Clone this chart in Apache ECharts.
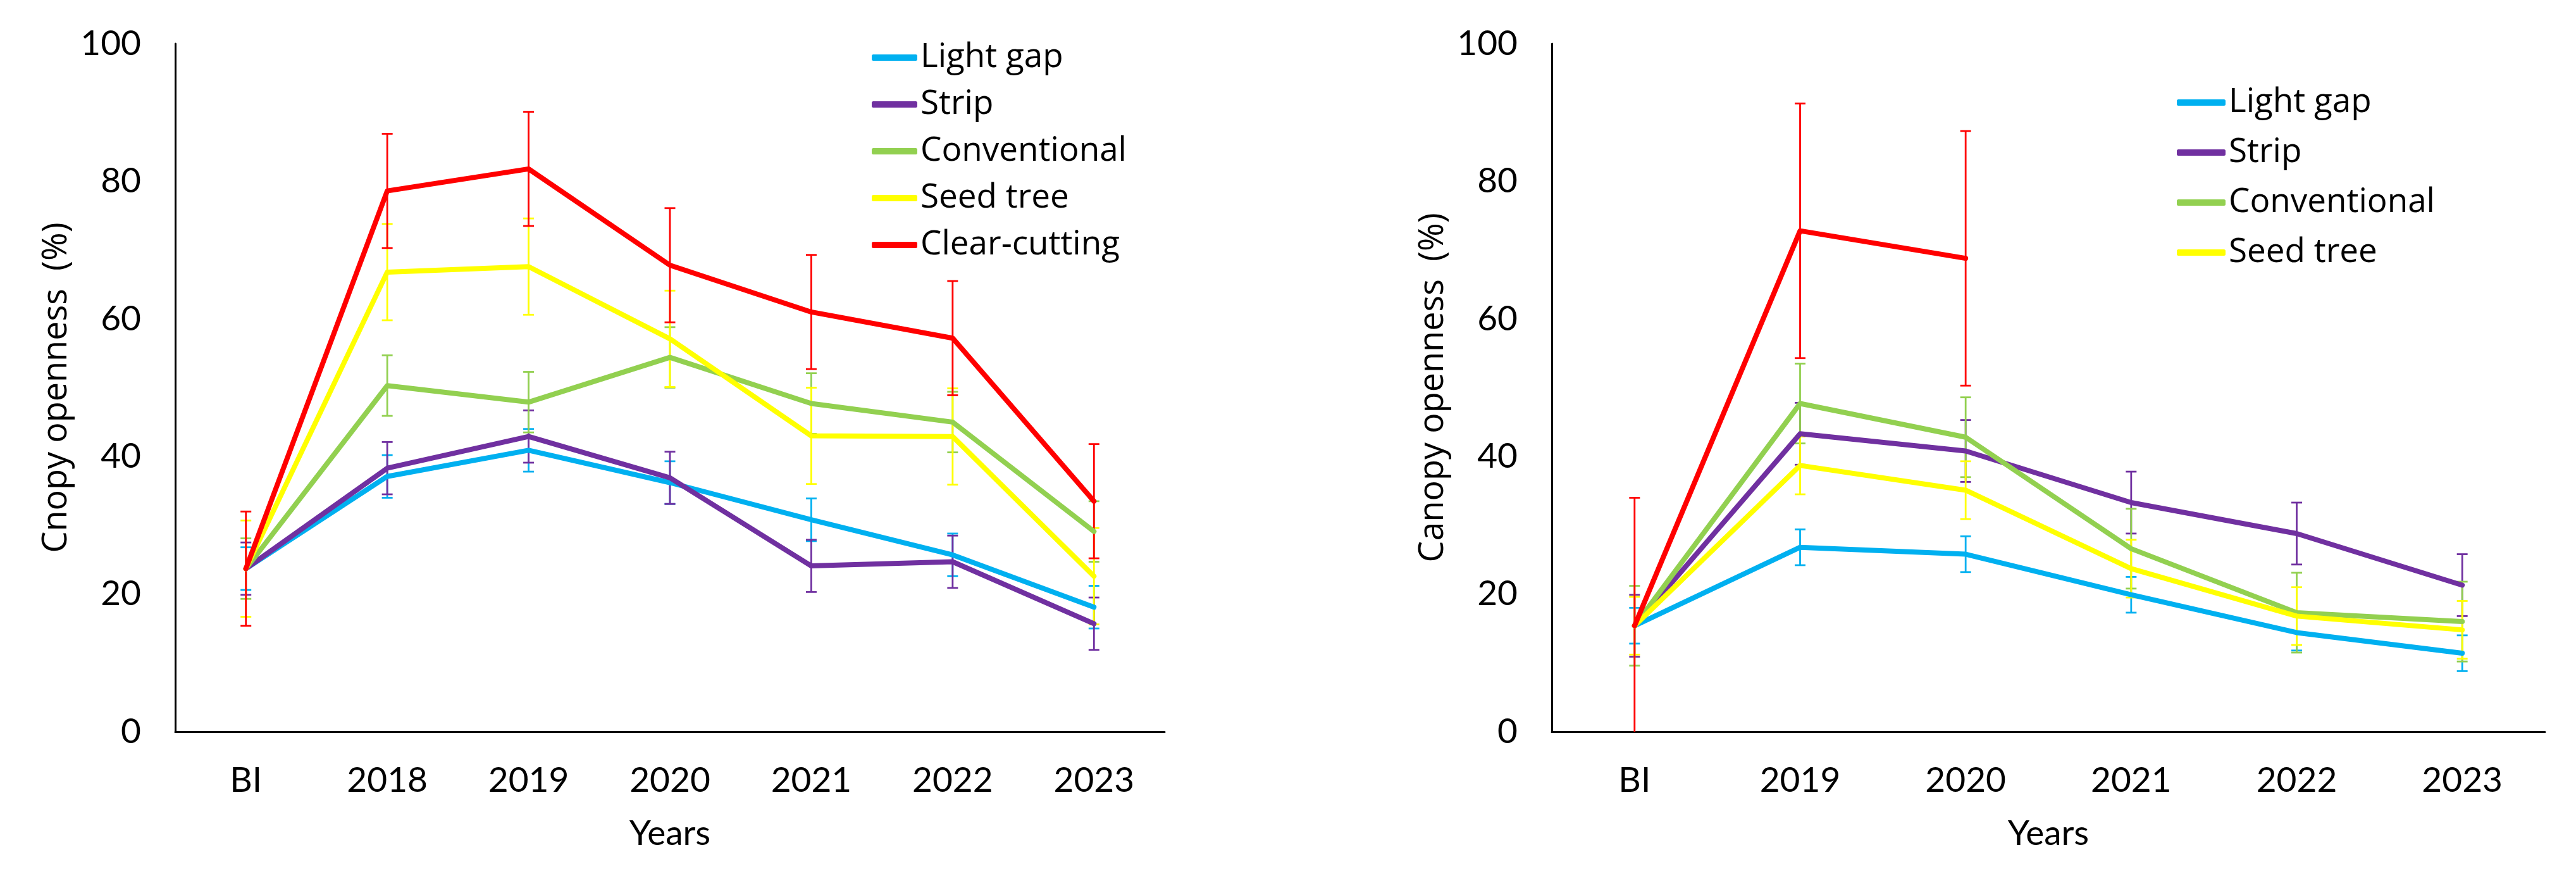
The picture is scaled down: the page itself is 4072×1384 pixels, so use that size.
<!DOCTYPE html>
<html>
<head>
<meta charset="utf-8">
<script src="https://cdn.jsdelivr.net/npm/echarts@6/dist/echarts.min.js"></script>
<style>
html,body{margin:0;padding:0;background:#fff;}
#main{width:4072px;height:1384px;}
</style>
</head>
<body>
<div id="main"></div>
<script>
// ---------- Data ----------
const categoriesL = ['BI', '2018', '2019', '2020', '2021', '2022', '2023'];
const categoriesR = ['BI', '2019', '2020', '2021', '2022', '2023'];
const yTicks = [0, 20, 40, 60, 80, 100];

const seriesNames = ['Light gap', 'Strip', 'Conventional', 'Seed tree', 'Clear-cutting'];

// Left panel (Cnopy openness)
const lightGapL     = [23.7, 37.1, 40.9, 36.2, 30.8, 25.7, 18.1];
const stripL        = [23.7, 38.3, 42.9, 36.9, 24.1, 24.7, 15.7];
const conventionalL = [23.7, 50.3, 47.9, 54.4, 47.7, 45.0, 29.1];
const seedTreeL     = [23.7, 66.8, 67.6, 57.1, 43.0, 42.9, 22.6];
const clearCutL     = [23.7, 78.6, 81.8, 67.8, 61.0, 57.2, 33.5];

const lightGapErrL     = [3.1, 3.1, 3.1, 3.1, 3.1, 3.1, 3.1];
const stripErrL        = [3.8, 3.8, 3.8, 3.8, 3.8, 3.8, 3.8];
const conventionalErrL = [4.4, 4.4, 4.4, 4.4, 4.4, 4.4, 4.4];
const seedTreeErrL     = [7.0, 7.0, 7.0, 7.0, 7.0, 7.0, 7.0];
const clearCutErrL     = [8.3, 8.3, 8.3, 8.3, 8.3, 8.3, 8.3];

// Right panel (Canopy openness)
const lightGapR     = [15.4, 26.8, 25.8, 19.9, 14.4, 11.4];
const stripR        = [15.4, 43.3, 40.8, 33.3, 28.8, 21.3];
const conventionalR = [15.4, 47.7, 42.8, 26.6, 17.3, 16.0];
const seedTreeR     = [15.4, 38.7, 35.1, 23.7, 16.8, 14.8];
const clearCutR     = [15.4, 72.8, 68.8, null, null, null];

const lightGapErrR     = [2.6, 2.6, 2.6, 2.6, 2.6, 2.6];
const stripErrR        = [4.5, 4.5, 4.5, 4.5, 4.5, 4.5];
const conventionalErrR = [5.8, 5.8, 5.8, 5.8, 5.8, 5.8];
const seedTreeErrR     = [4.2, 4.2, 4.2, 4.2, 4.2, 4.2];
const clearCutErrR     = [18.6, 18.5, 18.5, null, null, null];

// ---------- Styles ----------
const colors = {
  'Light gap': '#00B0F0',
  'Strip': '#7030A0',
  'Conventional': '#92D050',
  'Seed tree': '#FFFF00',
  'Clear-cutting': '#FF0000'
};
const tickFont = 'Lato, "Liberation Sans", sans-serif';
const titleFont = '"Open Sans", "DejaVu Sans", sans-serif';

function lineSeries(name, data, gi) {
  return {
    type: 'line', name: name, xAxisIndex: gi, yAxisIndex: gi, data: data,
    symbol: 'none', showSymbol: false, connectNulls: false, animation: false,
    itemStyle: { color: colors[name] },
    lineStyle: { color: colors[name], width: 8, cap: 'round', join: 'round' }
  };
}
function errSeries(name, data, err, gi) {
  const pts = [];
  data.forEach(function (v, i) {
    if (v != null && err[i] != null) pts.push([i, v - err[i], v + err[i]]);
  });
  const color = colors[name];
  return {
    type: 'custom', name: name + ' error', xAxisIndex: gi, yAxisIndex: gi,
    data: pts, clip: true, animation: false, silent: true,
    itemStyle: { color: color },
    encode: { x: 0, y: [1, 2] },
    renderItem: function (params, api) {
      const x = api.value(0);
      const lo = api.coord([x, api.value(1)]);
      const hi = api.coord([x, api.value(2)]);
      const h = 8.5;
      const st = { stroke: color, lineWidth: 2.8, fill: null };
      return {
        type: 'group',
        children: [
          { type: 'line', shape: { x1: lo[0], y1: lo[1], x2: hi[0], y2: hi[1] }, style: st },
          { type: 'line', shape: { x1: hi[0] - h, y1: hi[1], x2: hi[0] + h, y2: hi[1] }, style: st },
          { type: 'line', shape: { x1: lo[0] - h, y1: lo[1], x2: lo[0] + h, y2: lo[1] }, style: st }
        ]
      };
    }
  };
}

const leftSet = [
  ['Light gap', lightGapL, lightGapErrL],
  ['Strip', stripL, stripErrL],
  ['Conventional', conventionalL, conventionalErrL],
  ['Seed tree', seedTreeL, seedTreeErrL],
  ['Clear-cutting', clearCutL, clearCutErrL]
];
const rightSet = [
  ['Light gap', lightGapR, lightGapErrR],
  ['Strip', stripR, stripErrR],
  ['Conventional', conventionalR, conventionalErrR],
  ['Seed tree', seedTreeR, seedTreeErrR],
  ['Clear-cutting', clearCutR, clearCutErrR]
];

const series = [];
leftSet.forEach(function (s) {
  series.push(errSeries(s[0], s[1], s[2], 0));
  series.push(lineSeries(s[0], s[1], 0));
});
rightSet.forEach(function (s) {
  series.push(errSeries(s[0], s[1], s[2], 1));
  series.push(lineSeries(s[0], s[1], 1));
});

function xAxis(cats, gi) {
  return {
    type: 'category', gridIndex: gi, data: cats, boundaryGap: true,
    axisLine: { show: true, lineStyle: { color: '#000', width: 3 } },
    axisTick: { show: false },
    axisLabel: { interval: 0, margin: 50, color: '#000', fontFamily: tickFont, fontSize: 55 },
    name: 'Years', nameLocation: 'middle', nameGap: 134,
    nameTextStyle: { color: '#000', fontFamily: tickFont, fontSize: 55 },
    splitLine: { show: false }
  };
}
function yAxis(name, gi) {
  return {
    type: 'value', gridIndex: gi, min: yTicks[0], max: yTicks[yTicks.length - 1],
    interval: yTicks[1] - yTicks[0],
    axisLine: { show: true, lineStyle: { color: '#000', width: 3 } },
    axisTick: { show: false },
    splitLine: { show: false },
    axisLabel: { margin: 54, color: '#000', fontFamily: tickFont, fontSize: 55 },
    name: name, nameLocation: 'middle', nameRotate: 90, nameGap: 160,
    nameTextStyle: { color: '#000', fontFamily: titleFont, fontSize: 54 }
  };
}

const option = {
  backgroundColor: '#fff',
  animation: false,
  grid: [
    { left: 277, top: 69, width: 1564, height: 1087 },
    { left: 2453, top: 69, width: 1570, height: 1087 }
  ],
  xAxis: [xAxis(categoriesL, 0), xAxis(categoriesR, 1)],
  yAxis: [yAxis('Cnopy openness  (%)', 0), yAxis('Canopy openness  (%)', 1)],
  legend: [
    {
      data: seriesNames, orient: 'vertical', left: 1373, top: 56,
      icon: 'roundRect', itemWidth: 72, itemHeight: 10, itemGap: 14,
      selectedMode: false,
      textStyle: { color: '#000', fontFamily: titleFont, fontSize: 53, lineHeight: 60 }
    },
    {
      data: seriesNames.slice(0, 4), orient: 'vertical', left: 3436, top: 127,
      icon: 'roundRect', itemWidth: 77, itemHeight: 10, itemGap: 19,
      selectedMode: false,
      textStyle: { color: '#000', fontFamily: titleFont, fontSize: 53, lineHeight: 60 }
    }
  ],
  series: series
};

const chart = echarts.init(document.getElementById('main'), null, { renderer: 'canvas' });
chart.setOption(option);
</script>
</body>
</html>
